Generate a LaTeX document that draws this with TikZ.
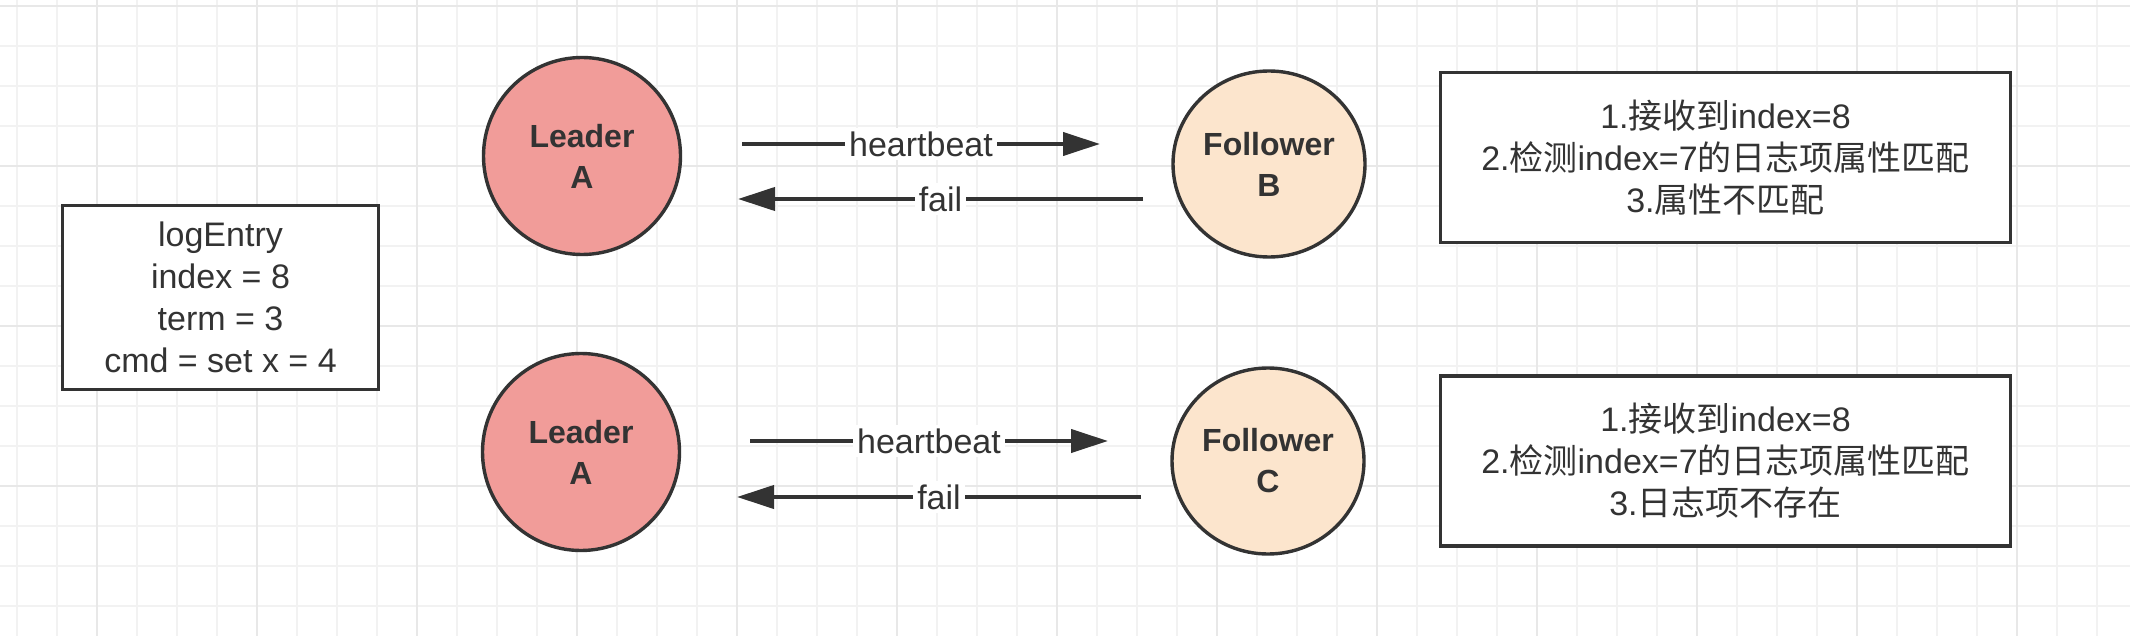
\documentclass[tikz,border=0pt]{standalone}
\usepackage{fontspec}
\setmainfont{Liberation Sans}
\newfontfamily\cjk{Noto Sans CJK SC}
\usetikzlibrary{shapes.geometric,arrows.meta}
\definecolor{linec}{HTML}{333333}
\definecolor{leaderfill}{HTML}{F19C99}
\definecolor{followerfill}{HTML}{FCE5CD}
\definecolor{gridminor}{HTML}{F2F2F2}
\definecolor{gridmajor}{HTML}{E8E8E8}
\tikzset{
  minorgrid/.style={draw=gridminor, line width=1.2pt},
  majorgrid/.style={draw=gridmajor, line width=1.4pt},
  leadernode/.style={circle, draw=linec, line width=1.7pt, fill=leaderfill,
    minimum size=98.5pt, inner sep=0pt, align=center, text=linec,
    font=\bfseries\fontsize{16}{20.5}\selectfont},
  followernode/.style={ellipse, draw=linec, line width=1.7pt, fill=followerfill,
    minimum width=96pt, minimum height=93pt, inner sep=0pt, align=center, text=linec,
    font=\bfseries\fontsize{16}{20.5}\selectfont},
  infobox/.style={rectangle, draw=linec, line width=1.75pt, fill=white,
    inner sep=0pt, align=center, text=linec,
    font=\fontsize{17}{21}\selectfont},
  flowarrow/.style={draw=linec, line width=2pt,
    -{Triangle[length=18.5pt,width=11.5pt]}},
  flowlabel/.style={fill=white, inner sep=2pt, text=linec,
    font=\fontsize{17}{20}\selectfont},
}
\begin{document}
\begin{tikzpicture}[x=0.5pt,y=-0.5pt]
\useasboundingbox (0,0) rectangle (2130,636);
\fill[white] (0,0) rectangle (2130,636);
% grid
\foreach \i in {0,...,53} \draw[minorgrid] ({17+40*\i},0) -- ({17+40*\i},636);
\foreach \j in {0,...,15} \draw[minorgrid] (0,{6+40*\j}) -- (2130,{6+40*\j});
\foreach \i in {0,...,12} \draw[majorgrid] ({97+160*\i},0) -- ({97+160*\i},636);
\foreach \j in {0,...,3} \draw[majorgrid] (0,{6+160*\j}) -- (2130,{6+160*\j});

% log entry box
\node[infobox, minimum width=157.8pt, minimum height=91.8pt] (log) at (220.5,297.5)
  {logEntry\\index = 8\\term = 3\\cmd = set x = 4};

% top row
\node[leadernode] (la1) at (582,156) {Leader\\A};
\node[followernode] (fb) at (1269,164) {Follower\\B};
\node[infobox, minimum width=285pt, minimum height=85pt] (box1) at (1725.5,157.5)
  {1.{\cjk 接收到}index=8\\2.{\cjk 检测}index=7{\cjk 的日志项属性匹配}\\3.{\cjk 属性不匹配}};

% bottom row
\node[leadernode] (la2) at (581,452) {Leader\\A};
\node[followernode] (fc) at (1268,461) {Follower\\C};
\node[infobox, minimum width=285pt, minimum height=85pt] (box2) at (1725.5,461)
  {1.{\cjk 接收到}index=8\\2.{\cjk 检测}index=7{\cjk 的日志项属性匹配}\\3.{\cjk 日志项不存在}};

% arrow end points
\coordinate (hb1s) at (742,144);
\coordinate (hb1e) at (1100,144);
\coordinate (fl1s) at (1143,199);
\coordinate (fl1e) at (738,199);
\coordinate (hb2s) at (750,441);
\coordinate (hb2e) at (1108,441);
\coordinate (fl2s) at (1141,497);
\coordinate (fl2e) at (737,497);

\draw[flowarrow] (hb1s) -- node[flowlabel] (hb1l) {heartbeat} (hb1e);
\draw[flowarrow] (fl1s) -- node[flowlabel] (fl1l) {fail} (fl1e);
\draw[flowarrow] (hb2s) -- node[flowlabel] (hb2l) {heartbeat} (hb2e);
\draw[flowarrow] (fl2s) -- node[flowlabel] (fl2l) {fail} (fl2e);
\end{tikzpicture}
\end{document}
